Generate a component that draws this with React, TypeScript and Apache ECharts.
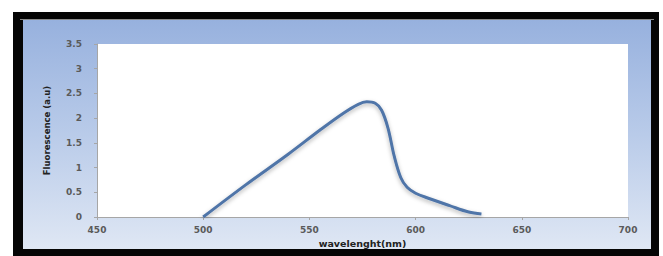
import React, { useEffect, useRef } from "react";
import * as echarts from "echarts";

const wavelengths = [500, 520, 540, 555, 566, 573, 577, 581, 584, 587, 590, 593, 596, 600, 606, 616, 625, 631];
const fluorescence = [0, 0.65, 1.27, 1.76, 2.1, 2.28, 2.33, 2.3, 2.16, 1.8, 1.22, 0.8, 0.6, 0.48, 0.38, 0.23, 0.1, 0.06];
const xAxisName = "wavelenght(nm)";
const yAxisName = "Fluorescence (a.u)";

export default function App() {
  const ref = useRef<HTMLDivElement>(null);
  useEffect(() => {
    if (!ref.current) return;
    const chart = echarts.init(ref.current, null, { renderer: "svg" });
    const data = wavelengths.map((w, i) => [w, fluorescence[i]]);
    chart.setOption({
      animation: false,
      backgroundColor: "#ffffff",
      graphic: [
        { type: "rect", silent: true, z: -10, shape: { x: 13, y: 12, width: 646, height: 244 }, style: { fill: "#050505" } },
        {
          type: "rect", silent: true, z: -9,
          shape: { x: 23, y: 20, width: 628, height: 229 },
          style: {
            fill: new echarts.graphic.LinearGradient(0, 0, 0, 1, [
              { offset: 0, color: "#97b1de" },
              { offset: 0.5, color: "#b9cbe9" },
              { offset: 1, color: "#dfe7f4" },
            ]),
          },
        },
        { type: "line", silent: true, z: -8, shape: { x1: 20, y1: 19.5, x2: 654, y2: 19.5 }, style: { stroke: "#8a8a8a", lineWidth: 1 } },
      ],
      grid: { left: 97, top: 44, width: 531, height: 173, show: true, backgroundColor: "#ffffff", borderWidth: 0 },
      xAxis: {
        type: "value",
        min: 450,
        max: 700,
        interval: 50,
        name: xAxisName,
        nameLocation: "middle",
        nameGap: 12,
        nameTextStyle: { fontFamily: "DejaVu Sans", fontWeight: "bold", fontSize: 9.5, color: "#222" },
        axisLine: { show: true, lineStyle: { color: "#a6a6a6", width: 1 } },
        axisTick: { show: true, length: 3, lineStyle: { color: "#a6a6a6" } },
        axisLabel: { fontFamily: "DejaVu Sans", fontWeight: "bold", fontSize: 9, color: "#5a5a5a", margin: 8 },
        splitLine: { show: false },
      },
      yAxis: {
        type: "value",
        min: 0,
        max: 3.5,
        interval: 0.5,
        name: yAxisName,
        nameLocation: "middle",
        nameGap: 46,
        nameTextStyle: { fontFamily: "DejaVu Sans Condensed, DejaVu Sans", fontWeight: "bold", fontSize: 9.5, color: "#222" },
        axisLine: { show: true, lineStyle: { color: "#a6a6a6", width: 1 } },
        axisTick: { show: true, length: 3, lineStyle: { color: "#a6a6a6" } },
        axisLabel: { fontFamily: "DejaVu Sans", fontWeight: "bold", fontSize: 9, color: "#5a5a5a", margin: 15 },
        splitLine: { show: false },
      },
      series: [
        {
          type: "line",
          data,
          smooth: 0.35,
          showSymbol: false,
          symbol: "none",
          lineStyle: { color: "#4f74a8", width: 3, shadowColor: "rgba(0,0,0,0.3)", shadowBlur: 4, shadowOffsetY: 2 },
        },
      ],
    });
    return () => chart.dispose();
  }, []);
  return <div ref={ref} style={{ position: "fixed", left: 0, top: 0, width: 663, height: 256 }} />;
}
